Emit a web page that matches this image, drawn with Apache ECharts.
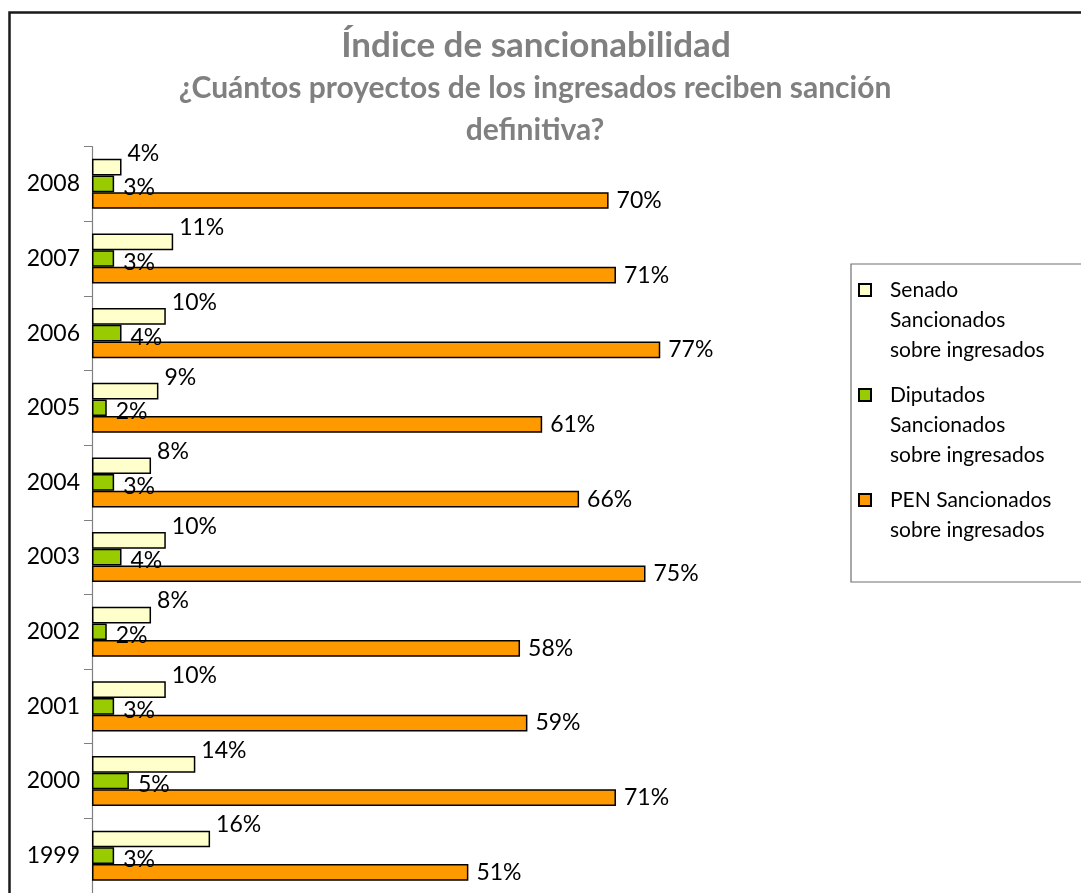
<!DOCTYPE html>
<html>
<head>
<meta charset="utf-8">
<script src="https://cdn.jsdelivr.net/npm/echarts@6/dist/echarts.min.js"></script>
<style>
html,body{margin:0;padding:0;background:#fff;}
#chart{width:1081px;height:893px;}
</style>
</head>
<body>
<div id="chart"></div>
<script>
const years = ['2008','2007','2006','2005','2004','2003','2002','2001','2000','1999'];
const senado = [4, 11, 10, 9, 8, 10, 8, 10, 14, 16];
const diputados = [3, 3, 4, 2, 3, 4, 2, 3, 5, 3];
const pen = [70, 71, 77, 61, 66, 75, 58, 59, 71, 51];
const seriesNames = ['Senado Sancionados sobre ingresados', 'Diputados Sancionados sobre ingresados', 'PEN Sancionados sobre ingresados'];
const legendLabels = ['Senado\nSancionados\nsobre ingresados', 'Diputados\nSancionados\nsobre ingresados', 'PEN Sancionados\nsobre ingresados\n '];

const FONT = 'Lato';
const chart = echarts.init(document.getElementById('chart'));

function label(offset, distance) {
  return {
    show: true, position: 'right', distance: distance, offset: offset,
    formatter: p => p.value + '%',
    color: '#000', fontFamily: FONT, fontSize: 23
  };
}
const barBorder = { borderColor: '#000', borderWidth: 1.5 };
const legendIcon = 'path://M0,9L12,9L12,21L0,21ZM0,0M0,90';

chart.setOption({
  animation: false,
  backgroundColor: '#fff',
  graphic: [{
    type: 'rect', left: 7, top: 10, z: -1,
    shape: { width: 1120, height: 930 },
    style: { fill: 'none', stroke: '#1a1a1a', lineWidth: 2.5 }
  }],
  title: [{
    text: 'Índice de sancionabilidad',
    left: 531, top: 23, textAlign: 'center',
    textStyle: { fontFamily: FONT, fontWeight: 'bold', fontSize: 35, color: '#808080' }
  }, {
    text: '¿Cuántos proyectos de los ingresados reciben sanción\ndefinitiva?',
    left: 530, top: 62, textAlign: 'center',
    textStyle: { fontFamily: FONT, fontWeight: 'bold', fontSize: 30, lineHeight: 42, color: '#808080' }
  }],
  legend: {
    orient: 'vertical',
    left: 851, top: 264,
    padding: [10, 40, 6, 7],
    itemWidth: 12, itemHeight: 90, itemGap: 13,
    backgroundColor: '#fff',
    borderColor: '#707070', borderWidth: 1.2,
    data: seriesNames.map(n => ({ name: n, icon: legendIcon })),
    formatter: name => legendLabels[seriesNames.indexOf(name)],
    textStyle: { fontFamily: FONT, fontSize: 21, lineHeight: 30, color: '#000', padding: [0, 0, 0, 14] },
    selectedMode: false
  },
  grid: { left: 92, top: 146.5, width: 738, height: 755, containLabel: false },
  xAxis: { type: 'value', min: 0, max: 100, show: false },
  yAxis: {
    type: 'category', data: years, inverse: true,
    axisLine: { show: true, lineStyle: { color: '#808080', width: 1.2 } },
    axisTick: { show: true, length: 8, lineStyle: { color: '#808080' } },
    axisLabel: { fontFamily: FONT, fontSize: 23, color: '#000', margin: 12 },
    splitLine: { show: false }
  },
  series: [{
    name: seriesNames[0], type: 'bar', data: senado,
    barGap: '0%', barCategoryGap: '33%',
    itemStyle: Object.assign({ color: '#FFFFCC' }, barBorder),
    label: label([0, -14], 6)
  }, {
    name: seriesNames[1], type: 'bar', data: diputados,
    itemStyle: Object.assign({ color: '#99CC00' }, barBorder),
    label: label([0, 4], 9)
  }, {
    name: seriesNames[2], type: 'bar', data: pen,
    itemStyle: Object.assign({ color: '#FF9900' }, barBorder),
    label: label([0, 0], 8)
  }]
});
</script>
</body>
</html>
